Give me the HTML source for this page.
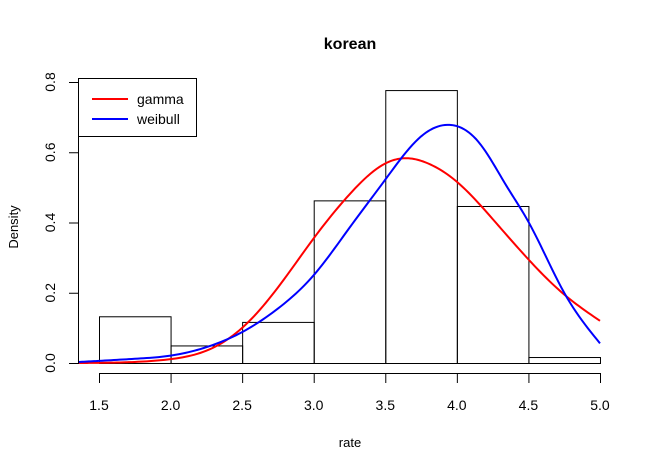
<!DOCTYPE html>
<html><head><meta charset="utf-8"><style>
body{margin:0;background:#fff;}
svg{display:block;font-family:"Liberation Sans",Arial,sans-serif;}
</style></head><body>
<svg width="661" height="472" viewBox="0 0 661 472">
<text x="350" y="49" text-anchor="middle" font-weight="bold" font-size="16">korean</text>
<text x="350" y="447" text-anchor="middle" font-size="13">rate</text>
<text transform="translate(18,227) rotate(-90)" text-anchor="middle" font-size="13">Density</text>
<g id="bars"></g>
<g id="axes"></g>
<g id="curves"></g>
<g>
<rect x="78.5" y="78.5" width="118" height="58" fill="#fff" stroke="#000"/>
<line x1="92" y1="99" x2="128" y2="99" stroke="#f00" stroke-width="2"/>
<text x="137" y="104" font-size="14">gamma</text>
<line x1="92" y1="119" x2="128" y2="119" stroke="#00f" stroke-width="2"/>
<text x="137" y="124" font-size="14">weibull</text>
</g>
</svg>
<script>
const binEdges=[1.5,2.0,2.5,3.0,3.5,4.0,4.5,5.0];
const binDensity=[0.133,0.05,0.117,0.463,0.777,0.447,0.017];
const xTicks=[1.5,2.0,2.5,3.0,3.5,4.0,4.5,5.0];
const xTickLabels=["1.5","2.0","2.5","3.0","3.5","4.0","4.5","5.0"];
const yTicks=[0,0.2,0.4,0.6,0.8];
const yTickLabels=["0.0","0.2","0.4","0.6","0.8"];
const gammaX=[1.36,1.5,1.75,2.0,2.25,2.5,2.75,3.0,3.25,3.5,3.65,3.8,4.0,4.25,4.5,4.75,5.0];
const gammaY=[0.0,0.0005,0.003,0.011,0.035,0.1,0.215,0.355,0.48,0.568,0.583,0.568,0.516,0.41,0.295,0.195,0.12];
const weibullX=[1.36,1.5,1.75,2.0,2.25,2.5,2.75,3.0,3.25,3.5,3.75,3.95,4.15,4.35,4.5,4.75,5.0];
const weibullY=[0.003,0.006,0.012,0.021,0.045,0.088,0.155,0.25,0.385,0.522,0.645,0.678,0.63,0.502,0.402,0.2,0.056];
const NS="http://www.w3.org/2000/svg";
function sx(v){return 99+(v-1.5)*143.14;}
function sy(v){return 363-v*351.25;}
function mk(tag,attrs,parent){const e=document.createElementNS(NS,tag);for(const k in attrs)e.setAttribute(k,attrs[k]);parent.appendChild(e);return e;}
const bars=document.getElementById('bars');
binDensity.forEach((d,i)=>{
 const r=mk('rect',{x:sx(binEdges[i])+0.5,y:sy(d)+0.5,width:sx(binEdges[i+1])-sx(binEdges[i]),height:sy(0)-sy(d),fill:'none',stroke:'#000','stroke-width':1},bars);
 
 
});
const axes=document.getElementById('axes');
const xl=mk('line',{x1:sx(xTicks[0]),y1:373.5,x2:sx(xTicks[xTicks.length-1]),y2:373.5,stroke:'#000'},axes);


xTicks.forEach((t,i)=>{
 const l=mk('line',{x1:sx(t)+0.5,y1:373,x2:sx(t)+0.5,y2:383,stroke:'#000'},axes);
 
 
 const tx=mk('text',{x:sx(t),y:410,'text-anchor':'middle','font-size':14},axes);
 tx.textContent=xTickLabels[i];
 
 
});
const yl=mk('line',{x1:78.5,y1:sy(yTicks[0]),x2:78.5,y2:sy(yTicks[yTicks.length-1]),stroke:'#000'},axes);


yTicks.forEach((t,i)=>{
 const l=mk('line',{x1:69,y1:sy(t)+0.5,x2:79,y2:sy(t)+0.5,stroke:'#000'},axes);
 
 
 const tx=mk('text',{transform:`translate(55,${sy(t)}) rotate(-90)`,'text-anchor':'middle','font-size':14},axes);
 tx.textContent=yTickLabels[i];
 
 
});
// natural cubic spline through the read points, sampled densely
function spline(xs,ys){
 const n=xs.length,h=[],a=[],l=[1],mu=[0],z=[0],c=new Array(n).fill(0),b=[],d=[];
 for(let i=0;i<n-1;i++)h.push(xs[i+1]-xs[i]);
 for(let i=1;i<n-1;i++)a[i]=3/h[i]*(ys[i+1]-ys[i])-3/h[i-1]*(ys[i]-ys[i-1]);
 for(let i=1;i<n-1;i++){l[i]=2*(xs[i+1]-xs[i-1])-h[i-1]*mu[i-1];mu[i]=h[i]/l[i];z[i]=(a[i]-h[i-1]*z[i-1])/l[i];}
 for(let j=n-2;j>=0;j--){c[j]=(j>0?z[j]:0)-mu[j]*c[j+1];b[j]=(ys[j+1]-ys[j])/h[j]-h[j]*(c[j+1]+2*c[j])/3;d[j]=(c[j+1]-c[j])/(3*h[j]);}
 const pts=[];
 for(let j=0;j<n-1;j++){
  for(let k=0;k<12;k++){const t=h[j]*k/12;pts.push([sx(xs[j]+t),sy(Math.max(0,ys[j]+b[j]*t+c[j]*t*t+d[j]*t*t*t))]);}
 }
 pts.push([sx(xs[n-1]),sy(ys[n-1])]);
 return 'M'+pts.map(p=>p[0].toFixed(2)+','+p[1].toFixed(2)).join(' L');
}
const curves=document.getElementById('curves');
const g=mk('path',{d:spline(gammaX,gammaY),fill:'none',stroke:'#f00','stroke-width':2},curves);


const w=mk('path',{d:spline(weibullX,weibullY),fill:'none',stroke:'#00f','stroke-width':2},curves);


</script>
</body></html>
